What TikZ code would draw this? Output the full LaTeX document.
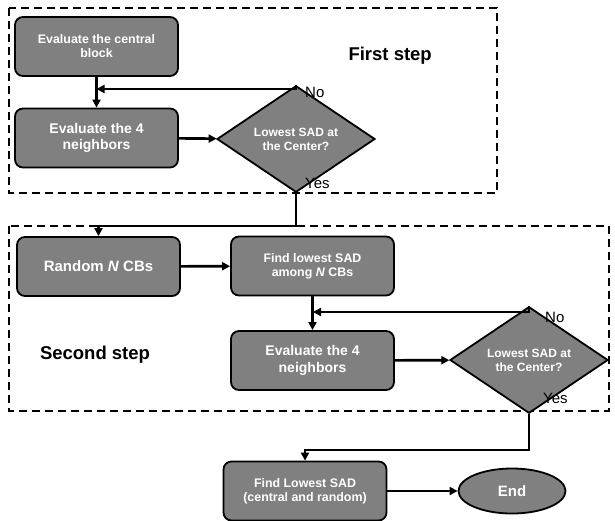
\documentclass[tikz,border=0pt]{standalone}
\usepackage{fontspec}
\setmainfont{Liberation Sans}
\usetikzlibrary{shapes.geometric,arrows.meta}
\definecolor{boxgray}{HTML}{808080}
\tikzset{
  blk/.style={draw, rectangle, rounded corners=8pt, fill=boxgray, text=white,
    line width=1.8pt, minimum width=163pt, minimum height=59pt, align=center,
    font=\bfseries\fontsize{12.4}{14}\selectfont},
  bigblk/.style={blk, font=\bfseries\fontsize{14}{16.5}\selectfont},
  dec/.style={draw, diamond, fill=boxgray, text=white, line width=1.8pt,
    minimum width=158pt, minimum height=65pt, inner sep=0pt, align=center,
    font=\bfseries\fontsize{12}{14}\selectfont},
  link/.style={-{Triangle[length=8pt,width=8pt]}, line width=2.6pt},
  frame/.style={line width=1.8pt, dash pattern=on 8pt off 5pt},
  lbl/.style={anchor=west, inner sep=0pt, font=\fontsize{15}{17}\selectfont},
  steplbl/.style={inner sep=0pt, font=\bfseries\fontsize{18.5}{20}\selectfont}
}
\begin{document}
\begin{tikzpicture}[x=1pt,y=-1pt]
    \useasboundingbox (0,0) rectangle (615,520);
    % first step
    \draw[frame] (9,8) rectangle (497,193);
    \node[blk] (ctr) at (96.5,46.5){Evaluate the central\\block};
    \node[bigblk] (nbr1) at (96.5,138){Evaluate the 4\\neighbors};
    \node[dec] (chk1) at (296,139){Lowest SAD at\\the Center?};
    \node[steplbl, anchor=east] (first) at (432,56){First step};
    \coordinate (join1) at (96.5,89);
    \draw[link] (ctr) -- (nbr1);
    \draw[link] (nbr1) -- (chk1);
    \draw[link] (chk1.north) |- (join1);
    \node[lbl] (no1) at (305,92){No};
    \node[lbl] (yes1) at (305,183){Yes};
    % second step
    \draw[frame] (9,226) rectangle (609,411);
    \node[bigblk, font=\bfseries\fontsize{15}{17}\selectfont] (rnd) at (98.5,266.5){Random \textit{N} CBs};
    \node[blk] (amg) at (312.5,266){Find lowest SAD\\among \textit{N} CBs};
    \node[bigblk] (nbr2) at (312.5,360.5){Evaluate the 4\\neighbors};
    \node[dec] (chk2) at (529,360){Lowest SAD at\\the Center?};
    \node[steplbl] (second) at (95,355){Second step};
    \coordinate (join2) at (313,312);
    \draw[link] (chk1.south) -- ++(0,33) -| (rnd.north);
    \draw[link] (rnd) -- (amg);
    \draw[link] (amg) -- (nbr2);
    \draw[link] (nbr2) -- (chk2);
    \draw[link] (chk2.north) |- (join2);
    \node[lbl] (no2) at (545,317){No};
    \node[lbl] (yes2) at (543,398){Yes};
    % end
    \node[blk] (low) at (305,491){Find Lowest SAD\\(central and random)};
    \node[draw, ellipse, fill=boxgray, text=white, line width=1.8pt,
      minimum width=107pt, minimum height=45pt,
      font=\bfseries\fontsize{15}{17}\selectfont] (end) at (512,491){End};
    \draw[link] (chk2.south) -- ++(0,36) -| (low.north);
    \draw[link] (low) -- (end);
\end{tikzpicture}
\end{document}
